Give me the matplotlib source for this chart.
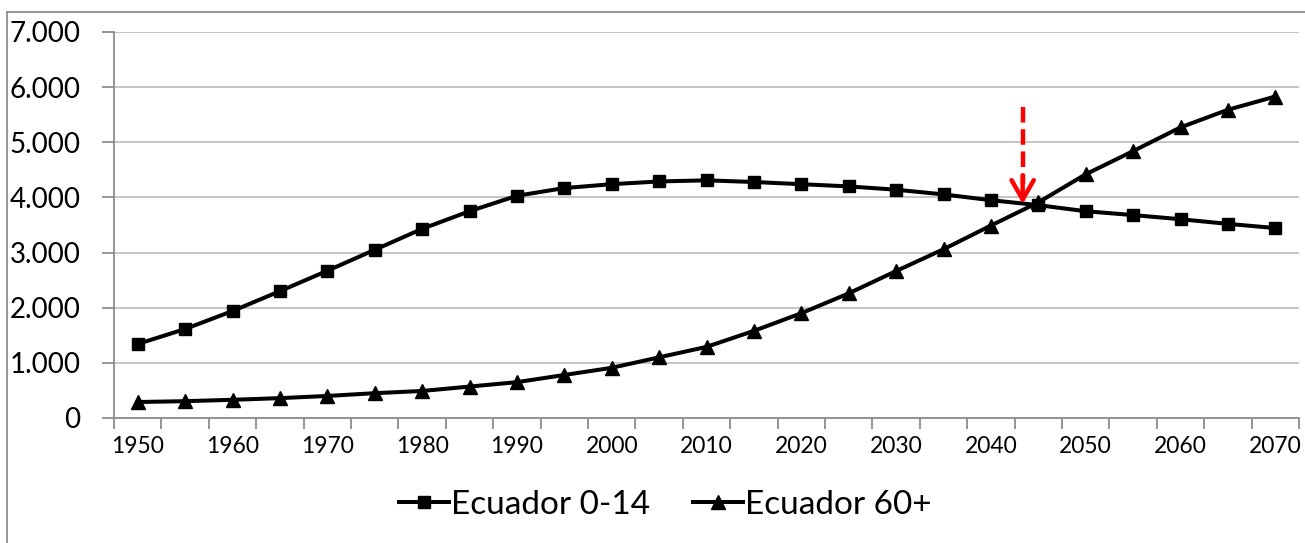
import matplotlib
matplotlib.use("Agg")
import matplotlib.pyplot as plt
from matplotlib.ticker import FuncFormatter, MultipleLocator
from matplotlib.lines import Line2D

years = list(range(1950, 2071, 5))
ecuador_0_14 = [1342, 1614, 1940, 2300, 2670, 3050, 3430, 3750, 4030, 4170,
                4240, 4290, 4310, 4280, 4240, 4200, 4140, 4055, 3950, 3860,
                3750, 3680, 3605, 3520, 3445]
ecuador_60 = [290, 305, 330, 360, 400, 450, 490, 570, 650, 780,
              910, 1100, 1290, 1580, 1900, 2260, 2665, 3060, 3490, 3910,
              4420, 4840, 5270, 5590, 5830]
tick_labels = [str(y) for y in range(1950, 2071, 10)]
series_names = ["Ecuador 0-14", "Ecuador 60+"]

plt.rcParams['font.family'] = ['Lato', 'DejaVu Sans']

W, H = 1305, 543
fig = plt.figure(figsize=(W / 100, H / 100), dpi=100)
ax = fig.add_axes([114 / W, 1 - 418 / H, (1299 - 114) / W, (418 - 32) / H])

x = list(range(len(years)))
l1, = ax.plot(x, ecuador_0_14, color='black', lw=2.9, marker='s', markersize=8,
              label=series_names[0], zorder=3)
l2, = ax.plot(x, ecuador_60, color='black', lw=2.9, marker='^', markersize=10.5,
              label=series_names[1], zorder=3)

ax.set_xlim(-0.5, len(years) - 0.5)
ax.set_ylim(0, 7000)
ax.yaxis.set_major_locator(MultipleLocator(1000))
ax.yaxis.set_major_formatter(FuncFormatter(lambda v, p: f"{int(v):,}".replace(",", ".")))
ax.set_xticks(list(range(0, len(years), 2)))
ax.set_xticklabels(tick_labels)
ax.set_xticks([i - 0.5 for i in range(len(years) + 1)], minor=True)
ax.tick_params(axis='x', which='major', length=0, labelsize=16.5, pad=13)
ax.tick_params(axis='x', which='minor', length=8, width=1.3, color='#8c8c8c')
ax.tick_params(axis='y', length=9, width=1.3, color='#8c8c8c', labelsize=20, pad=15)

ax.grid(axis='y', color='#c0c0c0', lw=1.3, zorder=0)
ax.set_axisbelow(True)
for s in ['top', 'right']:
    ax.spines[s].set_visible(False)
for s in ['left', 'bottom']:
    ax.spines[s].set_color('#8c8c8c')
    ax.spines[s].set_linewidth(1.3)

# red dashed arrow marking the crossover
ax_x = 18.67
ax.plot([ax_x, ax_x], [5640, 4250], color='#ff0000', lw=3.2,
        linestyle=(0, (3.5, 1.5)), zorder=4, solid_capstyle='butt')
ax.annotate('', xy=(ax_x, 3880), xytext=(ax_x, 4400),
            arrowprops=dict(arrowstyle='->,head_length=1.4,head_width=0.8',
                            color='#ff0000', lw=3.2, shrinkA=0, shrinkB=0), zorder=4)

leg = fig.legend(handles=[l1, l2], loc='center', bbox_to_anchor=(665 / W, 1 - 505 / H),
                 ncol=2, frameon=False, fontsize=24, handlelength=1.5,
                 handletextpad=0.05, columnspacing=1.3)

# chart area border (partially visible)
fig.add_artist(Line2D([7 / W, 7 / W], [0, 1 - 12 / H], transform=fig.transFigure,
                      color='#8c8c8c', lw=1.3))
fig.add_artist(Line2D([7 / W, 1], [1 - 12 / H, 1 - 12 / H], transform=fig.transFigure,
                      color='#8c8c8c', lw=1.3))

fig.savefig('out.png', dpi=100)
